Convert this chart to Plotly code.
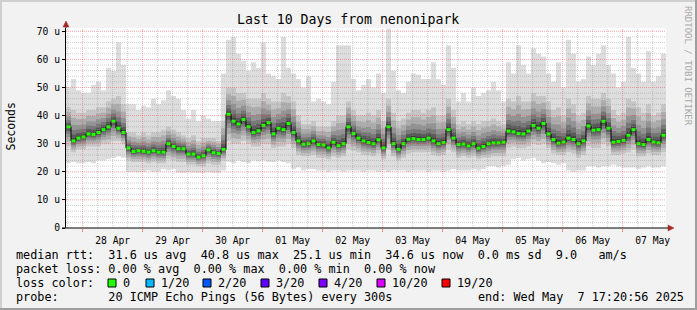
import pandas as pd
import plotly.graph_objects as go

TITLE = "Last 10 Days from nenonipark"
START = "2025-04-27 17:20:56"
END = "2025-05-07 17:20:56"
STEP = "2h"

# median round-trip time per 2h step (microseconds)
median_rtt = [
    36, 31, 32, 32.4, 33.5, 33.3, 34, 35, 36, 38,
    35.5, 34, 28.5, 27.2, 27.5, 27.3, 27, 27.5, 27, 27,
    30, 29, 28.2, 28.2, 26.3, 26.3, 25.2, 25.7, 27.8, 26.8,
    26.5, 28, 40.5, 38, 37, 38.6, 36, 34, 34.6, 36.5,
    37.5, 33.5, 35.5, 35, 37.2, 34, 31, 29.8, 30, 31,
    29.7, 29.6, 28.5, 30.5, 29.3, 30, 36, 33.6, 32, 31,
    30.4, 30, 31.4, 28.5, 36, 30, 28, 30, 31.6, 31.8,
    31.5, 31.5, 32, 31, 30, 30.4, 35, 32, 29.7, 29.9,
    29.2, 30, 28.4, 29, 30, 30.3, 30.3, 30.5, 34.5, 34.2,
    33.6, 33.5, 34.5, 36.5, 35.5, 37.2, 33.5, 31.5, 30.2, 30.6,
    32, 31.5, 30, 31, 36.3, 34.8, 35, 38, 35.5, 30.5,
    30.8, 31.2, 33, 35, 30, 29.7, 31.5, 30.6, 30.3, 33,
]
# fastest ping per step
ping_min = [
    23, 23.5, 23, 23, 23.5, 23, 24, 24, 24.5, 25,
    25.5, 25, 20, 20, 19.8, 20, 20.5, 20, 20, 21,
    20.5, 21, 19.7, 19.6, 19.8, 19.7, 19.6, 19.6, 19.8, 19.7,
    19.6, 20.5, 23.5, 23, 24, 23.5, 23, 24, 23.7, 24,
    23.5, 23.5, 24, 23.5, 23, 21, 21.5, 20.5, 21, 21,
    20.5, 20.5, 20, 20.5, 20.5, 20, 20.5, 20.5, 20.5, 20,
    20.5, 20.5, 20, 20.5, 20, 20.5, 20.5, 20.5, 20, 20.5,
    20.5, 20.5, 20, 20.5, 20.5, 20, 20.5, 21, 20.5, 20.5,
    20.5, 21, 20.5, 21, 22, 22, 21.5, 22, 22.5, 24.5,
    25, 24, 24.5, 25, 24, 23, 23.5, 23, 22.5, 23,
    20.5, 20, 20.5, 20.5, 22, 22, 21.5, 22, 22, 22.5,
    22, 21.5, 21.5, 21.5, 21, 21.5, 22, 21.5, 21.5, 22,
]
# lower edge of the dense smoke
ping_q1 = [
    29, 27, 28, 28, 29, 29, 29, 30, 30, 31,
    31, 30, 24, 23.5, 23.5, 23.5, 23, 23.5, 23, 23,
    24.5, 24, 23.5, 23.5, 22.5, 22.5, 22, 22, 23, 22.5,
    22.5, 24, 31, 30, 30, 31, 30, 29, 29, 30,
    30, 28.5, 29, 29, 30, 28.5, 26, 25.5, 25.5, 26,
    25, 25, 24.5, 25.5, 25, 25.5, 28, 27.5, 27, 26,
    26, 25.5, 26.5, 24.5, 28, 25.5, 24, 25, 26.5, 27,
    27, 27, 27, 26, 25.5, 26, 28, 27, 25, 25.5,
    25, 25.5, 24.5, 25, 25, 25.5, 25.5, 25.5, 28.5, 29,
    28.5, 28.5, 29, 30, 29.5, 30, 28.5, 26.5, 26, 26,
    27, 26.5, 25, 26, 29, 28.5, 28.5, 30, 29, 26,
    26, 26.5, 27, 28, 25.5, 25.5, 26.5, 26, 26, 27,
]
# upper edge of the dense smoke
ping_q3 = [
    43, 42, 41, 41, 42, 42, 43, 43, 45, 46,
    47, 44, 34, 34, 33, 34, 33, 34, 34, 35,
    36, 35, 34, 33, 32, 33, 31, 32, 32, 32,
    31, 38, 50, 50, 48, 48, 46, 46, 46, 48,
    46, 45, 45, 48, 47, 45, 40, 37, 37, 38,
    36, 36, 36, 38, 40, 40, 45, 42, 40, 40,
    41, 40, 42, 38, 46, 41, 38, 39, 41, 42,
    42, 41, 42, 43, 40, 40, 46, 42, 37, 38,
    37, 38, 37, 38, 38, 39, 38, 37, 46, 45,
    47, 45, 45, 48, 47, 47, 45, 42, 43, 40,
    46, 44, 40, 41, 47, 46, 46, 48, 46, 42,
    40, 41, 46, 45, 43, 41, 44, 40, 41, 44,
]
# slowest ping per step
ping_max = [
    50, 53, 49, 48, 48, 51, 52, 49, 57, 56,
    66, 58, 44, 44, 42, 43.5, 43, 46, 44, 45.5,
    49, 47, 46, 42, 39, 42, 38, 40, 39, 38,
    38, 55, 67, 68, 62, 59.5, 56, 59, 57, 66,
    55, 54, 53, 68, 57, 55, 53, 50, 54, 45,
    46, 45, 44, 52, 65, 65, 65, 53, 49, 51,
    53, 50, 55, 48, 71, 56, 49, 48, 52, 55,
    54.5, 53, 53, 59, 53, 51, 65, 57, 45, 48,
    45, 50, 47, 48, 49, 52, 49, 45, 59, 55,
    65, 58, 55, 64, 62, 61, 55, 52, 59, 50,
    67, 62, 52, 53, 61, 58, 62, 65, 58, 55,
    50, 52, 68, 57, 55, 52, 63, 52, 54, 62,
]

y_tick_vals = [0, 10, 20, 30, 40, 50, 60, 70]
y_tick_text = ["0", "10 u", "20 u", "30 u", "40 u", "50 u", "60 u", "70 u"]

rtt_stats = ["31.6 us avg", "40.8 us max", "25.1 us min", "34.6 us now", "0.0 ms sd", "9.0   am/s"]
loss_stats = ["0.00 % avg", "0.00 % max", "0.00 % min", "0.00 % now"]
loss_labels = ["0", "1/20", "2/20", "3/20", "4/20", "10/20", "19/20"]
loss_colors = ["#22ff00", "#00b8ff", "#0059ff", "#5e00ff", "#7e00ff", "#dd00ff", "#ff0000"]
probe_text = "20 ICMP Echo Pings (56 Bytes) every 300s"
end_text = "end: Wed May  7 17:20:56 2025"

# ---------------- geometry ----------------
W, H = 697, 310
ML, MR, MT, MB = 66, 31, 28, 82
PW, PH = W - ML - MR, H - MT - MB
YMAX = 71.17
MONO = "DejaVu Sans Mono"


def px(x):
    return (x - ML) / PW


def py(y):
    return (H - MB - y) / PH


def nb(s):
    return s.replace(" ", "\u00a0")


edges = pd.date_range(START, periods=len(median_rtt) + 1, freq=STEP)
centers = edges[:-1] + pd.Timedelta(hours=1)


def stepy(vals):
    return list(vals) + [vals[-1]]


fig = go.Figure()


def band(lo, hi, color):
    fig.add_trace(go.Scatter(x=edges, y=stepy(lo), mode="lines", line=dict(width=0, shape="hv"),
                             hoverinfo="skip", showlegend=False))
    fig.add_trace(go.Scatter(x=edges, y=stepy(hi), mode="lines", line=dict(width=0, shape="hv"),
                             fill="tonexty", fillcolor=color, hoverinfo="skip", showlegend=False))


band(ping_min, ping_max, "#dddddd")
band(ping_q1, ping_q3, "#c6c6c6")
for f, col in [(0.75, "#adadad"), (0.52, "#939393"), (0.34, "#777777"), (0.2, "#5a5a5a"),
               (0.09, "#3c3c3c")]:
    lo = [m - (m - q) * f for m, q in zip(median_rtt, ping_q1)]
    hi = [m + (q - m) * f for m, q in zip(median_rtt, ping_q3)]
    band(lo, hi, col)

fig.add_trace(go.Scatter(x=edges, y=stepy(median_rtt), mode="lines",
                         line=dict(color="black", width=1, shape="hv"),
                         hoverinfo="skip", showlegend=False))
fig.add_trace(go.Scatter(x=centers, y=median_rtt, mode="markers",
                         marker=dict(symbol="line-ew", size=3,
                                     line=dict(color=loss_colors[0], width=3)),
                         hoverinfo="skip", showlegend=False))

shapes = []
# grid drawn above the smoke, as rrdtool does
for t in pd.date_range("2025-04-27 18:00", END, freq="6h"):
    major = t.hour == 0
    shapes.append(dict(type="line", xref="x", yref="paper", x0=t, x1=t, y0=0, y1=1,
                       layer="above",
                       line=dict(color="rgba(255,60,60,0.45)" if major else "rgba(140,140,140,0.42)",
                                 width=1, dash="1px,1px")))
for v in range(2, 72, 2):
    if v > YMAX:
        continue
    major = v % 10 == 0
    shapes.append(dict(type="line", xref="paper", yref="y", x0=0, x1=1, y0=v, y1=v,
                       layer="above",
                       line=dict(color="rgba(255,60,60,0.45)" if major else "rgba(140,140,140,0.42)",
                                 width=1, dash="1px,1px")))

# axis extensions and arrows
arrow_col = "#a52a2a"
shapes.append(dict(type="line", xref="paper", yref="paper", x0=0, x1=0, y0=1, y1=py(25),
                   line=dict(color="black", width=1)))
shapes.append(dict(type="path", xref="paper", yref="paper",
                   path=f"M {px(63)} {py(27)} L {px(69)} {py(27)} L {px(66)} {py(21)} Z",
                   fillcolor=arrow_col, line=dict(color=arrow_col, width=0.5)))
shapes.append(dict(type="line", xref="paper", yref="paper", x0=px(62), x1=px(669), y0=0, y1=0,
                   line=dict(color="black", width=1)))
shapes.append(dict(type="path", xref="paper", yref="paper",
                   path=f"M {px(668)} {py(225)} L {px(668)} {py(231)} L {px(674)} {py(228)} Z",
                   fillcolor=arrow_col, line=dict(color=arrow_col, width=0.5)))

# image frame
shapes.append(dict(type="line", xref="paper", yref="paper", x0=px(0), x1=px(W), y0=py(1), y1=py(1),
                   line=dict(color="#cfcfcf", width=2)))
shapes.append(dict(type="line", xref="paper", yref="paper", x0=px(1), x1=px(1), y0=py(0), y1=py(H),
                   line=dict(color="#cfcfcf", width=2)))
shapes.append(dict(type="line", xref="paper", yref="paper", x0=px(0), x1=px(W), y0=py(H - 1), y1=py(H - 1),
                   line=dict(color="#9e9e9e", width=2)))
shapes.append(dict(type="line", xref="paper", yref="paper", x0=px(W - 1), x1=px(W - 1), y0=py(0), y1=py(H),
                   line=dict(color="#9e9e9e", width=2)))

# loss colour boxes
box_x = [108, 146, 203, 261, 319, 377, 442]
for bx, col in zip(box_x, loss_colors):
    shapes.append(dict(type="rect", xref="paper", yref="paper", x0=px(bx), x1=px(bx + 8),
                       y0=py(287), y1=py(279), fillcolor=col, line=dict(color="black", width=1)))

ann = []


def text(x, y, s, size=11.8, xanchor="left", angle=0, color="black"):
    ann.append(dict(x=px(x), y=py(y), xref="paper", yref="paper", text=nb(s), showarrow=False,
                    xanchor=xanchor, yanchor="middle", textangle=angle,
                    font=dict(family=MONO, size=size, color=color)))


text(347.5, 19, TITLE, size=13.2, xanchor="center")
text(10, 126.5, "Seconds", size=11.5, xanchor="center", angle=-90)
text(688, 66, "RRDTOOL / TOBI OETIKER", size=9, xanchor="center", angle=90, color="#a8a8a8")
text(14, 254.5, "median rtt:  " + "  ".join(rtt_stats))
text(14, 268.5, "packet loss: " + "  ".join(loss_stats))
text(14, 282.5, "loss color:")
for bx, lab in zip(box_x, loss_labels):
    text(bx + 13, 282.5, lab)
text(14, 296.5, "probe:       " + probe_text)
text(476, 296.5, end_text)

fig.update_layout(
    width=W, height=H,
    margin=dict(l=ML, r=MR, t=MT, b=MB),
    paper_bgcolor="#f2f2f2", plot_bgcolor="white",
    showlegend=False,
    shapes=shapes, annotations=ann,
    xaxis=dict(type="date", range=[START, END], tick0="2025-04-28", dtick=86400000,
               tickformat="%d %b", ticklabelmode="period", showgrid=False, zeroline=False,
               ticks="outside", ticklen=3, tickcolor="rgba(255,60,60,0.6)",
               showline=False,
               tickfont=dict(family=MONO, size=9.7, color="black"),
               fixedrange=True),
    yaxis=dict(range=[0, YMAX], tickvals=y_tick_vals, ticktext=y_tick_text,
               showgrid=False, zeroline=False, ticks="outside", ticklen=3, tickcolor="black",
               showline=True, linecolor="black", linewidth=1,
               tickfont=dict(family=MONO, size=9.7, color="black"),
               fixedrange=True),
)

fig.write_html("out.html")
